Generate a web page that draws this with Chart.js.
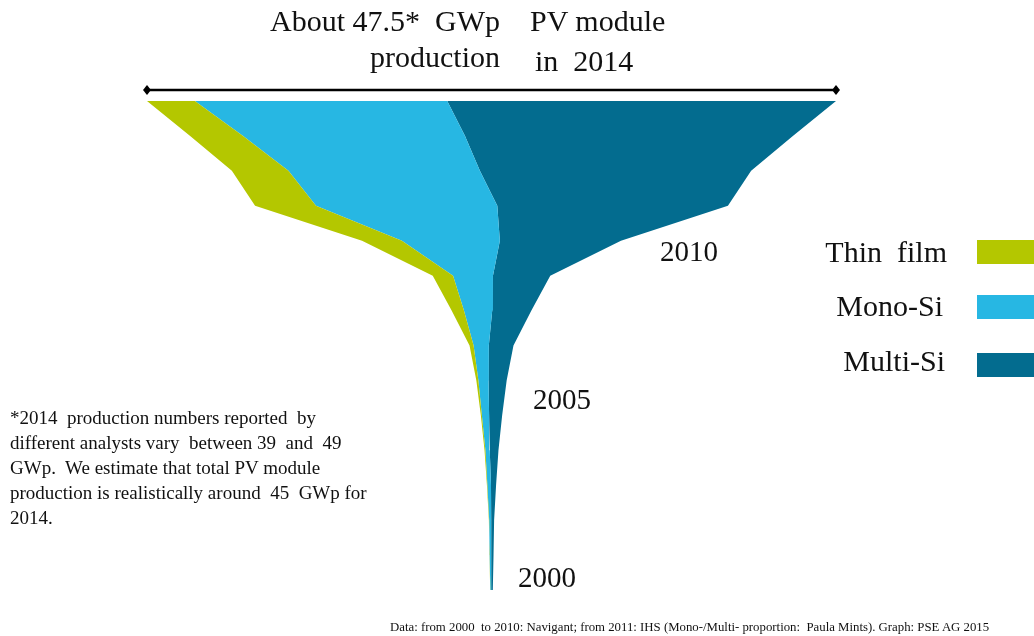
<!DOCTYPE html>
<html>
<head>
<meta charset="utf-8">
<script src="https://cdn.jsdelivr.net/npm/chart.js@4/dist/chart.umd.min.js"></script>
<style>
  html, body { margin: 0; padding: 0; background: #fff; }
  #wrap { position: relative; width: 1034px; height: 636px; overflow: hidden; font-family: "Liberation Serif", "Times New Roman", serif; color: #111; }
  #wrap canvas { position: absolute; left: 0; top: 0; }
  .t { position: absolute; white-space: pre; line-height: 1; }
  .title { font-size: 30px; }
  .year { font-size: 29px; }
  .leg { font-size: 30px; text-align: right; }
  .sw { position: absolute; left: 977px; width: 57px; height: 24px; }
  .note { position: absolute; left: 10px; top: 405px; font-size: 19px; line-height: 25px; white-space: pre; }
  .foot { font-size: 12.8px; }
</style>
</head>
<body>
<div id="wrap">
  <canvas id="chart" width="1034" height="636"></canvas>

  <div class="t title" style="right:534px; top:6px;">About 47.5*  GWp</div>
  <div class="t title" style="left:530px; top:6px;">PV module</div>
  <div class="t title" style="right:534px; top:42px;">production</div>
  <div class="t title" style="left:535px; top:46px;">in  2014</div>

  <div class="t year" style="left:660px; top:237px;">2010</div>
  <div class="t year" style="left:533px; top:385px;">2005</div>
  <div class="t year" style="left:518px; top:563px;">2000</div>

  <div class="t leg" style="right:87px; top:237px;">Thin  film</div>
  <div class="t leg" style="right:91px; top:291px;">Mono-Si</div>
  <div class="t leg" style="right:89px; top:346px;">Multi-Si</div>
  <div class="sw" style="top:240px; background:#b4c700;"></div>
  <div class="sw" style="top:295px; background:#27b7e3;"></div>
  <div class="sw" style="top:353px; background:#036c8f;"></div>

  <div class="note">*2014  production numbers reported  by
different analysts vary  between 39  and  49
GWp.  We estimate that total PV module
production is realistically around  45  GWp for
2014.</div>

  <div class="t foot" style="left:390px; top:621px;">Data: from 2000  to 2010: Navigant; from 2011: IHS (Mono-/Multi- proportion:  Paula Mints). Graph: PSE AG 2015</div>
</div>

<script>
// PV module production by technology, GWp
const years = ["2000", "2001", "2002", "2003", "2004", "2005", "2006", "2007",
               "2008", "2009", "2010", "2011", "2012", "2013", "2014"];
const thinFilm = [0.01, 0.01, 0.02, 0.03, 0.06, 0.07, 0.14, 0.28, 0.85, 1.4, 2.75, 4.2, 3.9, 3.65, 3.3];
const monoSi   = [0.07, 0.1, 0.14, 0.25, 0.3, 0.5, 0.7, 1.05, 1.95, 2.75, 6.75, 12.5, 13.2, 15.3, 17.4];
const multiSi  = [0.1, 0.17, 0.2, 0.35, 0.6, 0.9, 1.25, 1.7, 2.7, 3.95, 8.35, 15.9, 18.7, 22.6, 26.8];

const COLORS = { thin: "#b4c700", mono: "#27b7e3", multi: "#036c8f" };

// funnel is centred: each year spreads total/2 to both sides
const totals = years.map((_, i) => thinFilm[i] + monoSi[i] + multiSi[i]);
const leftEdge = totals.map((t) => -t / 2);
const thinEdge = leftEdge.map((v, i) => v + thinFilm[i]);
const monoEdge = thinEdge.map((v, i) => v + monoSi[i]);
const rightEdge = monoEdge.map((v, i) => v + multiSi[i]);
const half = Math.max(...totals) / 2;

const edge = (data, fill, color) => ({
  data,
  fill,
  backgroundColor: color,
  borderColor: color,
  borderWidth: 0,
  pointRadius: 0,
  tension: 0,
});

// black double-ended line above the widest year
const spanLine = {
  id: "spanLine",
  afterDraw(chart) {
    const { ctx, chartArea } = chart;
    const y = chartArea.top - 11;
    ctx.save();
    ctx.strokeStyle = "#000";
    ctx.fillStyle = "#000";
    ctx.lineWidth = 2.5;
    ctx.beginPath();
    ctx.moveTo(chartArea.left, y);
    ctx.lineTo(chartArea.right, y);
    ctx.stroke();
    [chartArea.left, chartArea.right].forEach((x) => {
      ctx.beginPath();
      ctx.moveTo(x - 4, y);
      ctx.lineTo(x, y - 5);
      ctx.lineTo(x + 4, y);
      ctx.lineTo(x, y + 5);
      ctx.closePath();
      ctx.fill();
    });
    ctx.restore();
  },
};

new Chart(document.getElementById("chart"), {
  type: "line",
  data: {
    labels: years,
    datasets: [
      edge(leftEdge, false, "transparent"),
      edge(thinEdge, "-1", COLORS.thin),
      edge(monoEdge, "-1", COLORS.mono),
      edge(rightEdge, "-1", COLORS.multi),
    ],
  },
  options: {
    indexAxis: "y",
    responsive: false,
    animation: false,
    layout: { padding: { left: 147, right: 198, top: 101, bottom: 46 } },
    scales: {
      x: { type: "linear", min: -half, max: half, display: false },
      y: { type: "category", reverse: true, display: false },
    },
    plugins: { legend: { display: false }, tooltip: { enabled: false } },
  },
  plugins: [spanLine],
});
</script>
</body>
</html>
